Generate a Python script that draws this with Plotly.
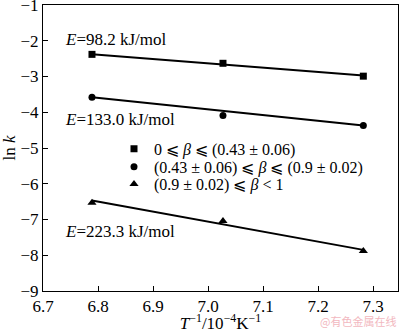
import plotly.graph_objects as go

# Data
x_vals = [6.789, 7.027, 7.282]
y_square = [-2.38, -2.63, -2.99]
y_circle = [-3.58, -4.09, -4.37]
y_triangle = [-6.53, -7.04, -7.88]

fit_x = [6.789, 7.282]
fit_square = [-2.38, -2.97]
fit_circle = [-3.58, -4.37]
fit_triangle = [-6.47, -7.85]

legend_names = [
    "0 ⩽ <i>β</i> ⩽ (0.43 ± 0.06)",
    "(0.43 ± 0.06) ⩽ <i>β</i> ⩽ (0.9 ± 0.02)",
    "(0.9 ± 0.02) ⩽ <i>β</i> &lt; 1",
]
energy_labels = ["<i>E</i>=98.2 kJ/mol", "<i>E</i>=133.0 kJ/mol", "<i>E</i>=223.3 kJ/mol"]
energy_pos_y = [-1.97, -4.2, -7.33]

x_ticks = [6.7, 6.8, 6.9, 7.0, 7.1, 7.2, 7.3]
y_ticks = [-9, -8, -7, -6, -5, -4, -3, -2, -1]

FONT = "Liberation Serif"

fig = go.Figure()
for fy in [fit_square, fit_circle, fit_triangle]:
    fig.add_trace(go.Scatter(x=fit_x, y=fy, mode="lines",
                             line=dict(color="black", width=2), showlegend=False,
                             hoverinfo="skip"))

symbols = ["square", "circle", "triangle-up"]
sizes = [7, 7, 8]
legend_ids = ["legend", "legend2", "legend3"]
for ys, sym, sz, name, lid in zip([y_square, y_circle, y_triangle], symbols, sizes,
                                  legend_names, legend_ids):
    fig.add_trace(go.Scatter(x=x_vals, y=ys, mode="markers", name=name, legend=lid,
                             marker=dict(symbol=sym, size=sz, color="black")))

for txt, yy in zip(energy_labels, energy_pos_y):
    fig.add_annotation(x=6.737, y=yy, text=txt, showarrow=False, xanchor="left",
                       yanchor="middle", font=dict(family=FONT, size=17, color="black"))

fig.add_annotation(x=1.0, y=-0.105, xref="paper", yref="paper", text="@有色金属在线",
                   showarrow=False, xanchor="right", yanchor="middle",
                   font=dict(family="Noto Sans CJK SC", size=11, color="#f2b8c0"))

leg_common = dict(x=0.2, xanchor="left", yanchor="middle", bgcolor="rgba(0,0,0,0)",
                  font=dict(family=FONT, size=16), itemwidth=30, borderwidth=0)

fig.update_layout(
    width=400, height=333,
    margin=dict(l=43, r=2, t=5, b=42, autoexpand=False),
    paper_bgcolor="white", plot_bgcolor="white",
    font=dict(family=FONT, size=17, color="black"),
    legend=dict(y=0.497, **leg_common),
    legend2=dict(y=0.434, **leg_common),
    legend3=dict(y=0.374, **leg_common),
    showlegend=True,
)
fig.update_xaxes(range=[6.7, 7.345], tickvals=x_ticks, ticktext=[f"{v:.1f}" for v in x_ticks],
                 ticks="inside", ticklen=5, tickcolor="black", showline=True, linecolor="black",
                 linewidth=1, mirror=True, showgrid=False, zeroline=False,
                 ticklabeloverflow="allow", automargin=False,
                 title=dict(text="<i>T</i><sup>−1</sup>/10<sup>−4</sup>K<sup>−1</sup>",
                            font=dict(family=FONT, size=17), standoff=5))
fig.update_yaxes(range=[-9.001, -0.999], tickvals=y_ticks,
                 ticktext=["−9", "−8", "−7", "−6", "−5", "−4", "−3", "−2", "−1"],
                 ticks="inside", ticklen=5, tickcolor="black", showline=True, linecolor="black",
                 linewidth=1, mirror=True, showgrid=False, zeroline=False,
                 ticklabeloverflow="allow", automargin=False,
                 title=dict(text="ln <i>k</i>", font=dict(family=FONT, size=17), standoff=2))

fig.write_html("out.html")
